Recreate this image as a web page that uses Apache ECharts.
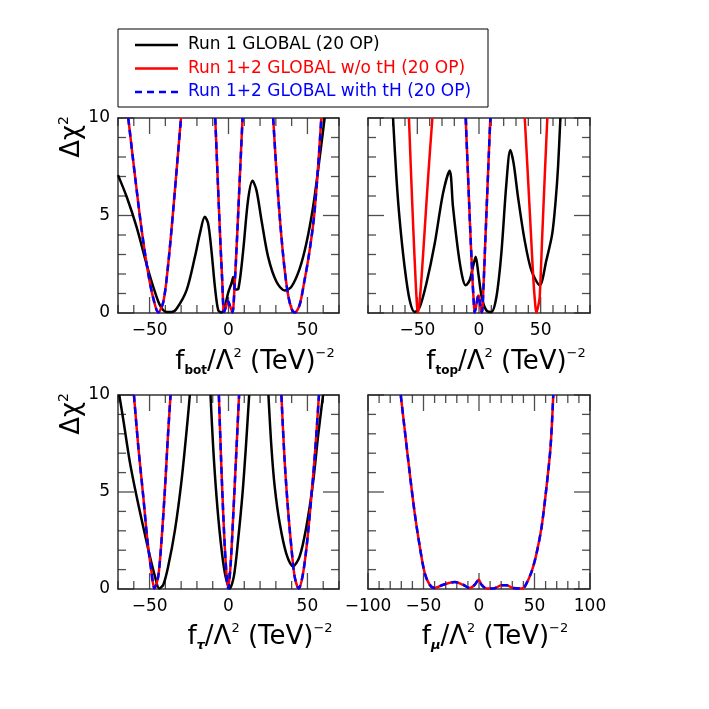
<!DOCTYPE html>
<html>
<head>
<meta charset="utf-8">
<title>Delta chi2 scans</title>
<script src="https://cdn.jsdelivr.net/npm/echarts@6/dist/echarts.min.js"></script>
<style>
    html, body { margin: 0; padding: 0; background: #fff; }
    #chart { width: 709px; height: 709px; }
</style>
</head>
<body>
<div id="chart"></div>
<script>
    // legend entries
    const seriesNames = ['Run 1 GLOBAL (20 OP)', 'Run 1+2 GLOBAL w/o tH (20 OP)', 'Run 1+2 GLOBAL with tH (20 OP)'];

    // tick labels
    const xTickLabels = [-100, -50, 0, 50, 100];
    const yTickLabels = [0, 5, 10];

    // axis ranges
    const botRange = [-70, 70];
    const topRange = [-90, 90];
    const tauRange = [-70, 70];
    const muRange = [-100, 100];

    // f_bot : [x, delta chi2]
    const botRun1 = [[-70, 7.07], [-64.5, 5.96], [-58.2, 4.4], [-51.9, 2.5], [-47.6, 1.33], [-43.4, 0.39], [-39.2, 0.05], [-36.1, 0.05],
        [-32.9, 0.22], [-26.6, 1.16], [-21.3, 2.87], [-18.1, 4.08], [-15.0, 4.93], [-12.9, 4.59], [-10.8, 3.2], [-8.6, 1.34],
        [-6.5, 0.14], [-4.5, 0.03], [-2.5, 0.3], [0, 1.1], [1.8, 1.5], [3.0, 1.85], [4.2, 1.2], [6.3, 1.25], [9.3, 3.2],
        [12.4, 5.8], [15.2, 6.78], [17.7, 6.3], [20.9, 4.76], [25.1, 2.88], [30.4, 1.6], [35.6, 1.16], [39.8, 1.34],
        [45.1, 2.28], [49.3, 3.56], [53.6, 5.45], [57.3, 7.67], [60.9, 10]];
    const botRun12a = [[-63.5, 10], [-59.2, 7.0], [-55.0, 4.25], [-50.8, 2.0], [-47.6, 0.74], [-44.5, 0.03], [-41.3, 0.56],
        [-38.2, 2.5], [-35.0, 5.3], [-30.1, 10]];
    const botRun12b = [[-8.4, 10], [-7.0, 7.2], [-5.5, 4.3], [-4.0, 1.7], [-2.8, 0.05], [-1.5, 0.35], [-0.3, 0.6], [1.0, 0.35],
        [2.5, 0.03], [3.8, 1.3], [5.5, 4.0], [7.2, 7.0], [8.9, 10]];
    const botRun12c = [[28.3, 10], [30.5, 7.1], [32.8, 4.6], [35.2, 2.5], [37.6, 1.0], [40, 0.2], [42, 0.02], [45, 0.4],
        [48, 1.6], [51, 3.0], [54, 4.8], [56.5, 7.2], [58.8, 10]];

    // f_top
    const topRun1 = [[-69.7, 10], [-67, 6.99], [-64.3, 4.76], [-60.3, 2.36], [-56.2, 0.65], [-52.2, 0.05], [-48.1, 0.3],
        [-42.7, 1.5], [-35.9, 3.56], [-29.2, 6.13], [-23.8, 7.3], [-21.1, 5.45], [-17, 3.2], [-13.5, 1.85], [-10.8, 1.42],
        [-7.6, 1.68], [-4.3, 2.53], [-2.7, 2.88], [-0.5, 2.0], [2.2, 0.82], [5.9, 0.14], [10, 0.05], [14.1, 0.82],
        [18.1, 3.05], [22.2, 6.64], [25.4, 8.36], [28.1, 7.67], [31.6, 5.96], [37, 3.73], [42.4, 2.2], [49.2, 1.42],
        [54.6, 2.7], [59.4, 4.07], [62.2, 5.8], [64.1, 7.5], [66, 10]];
    const topRun12a = [[-56.8, 10], [-55, 7], [-53.2, 4.2], [-51.5, 1.8], [-50.3, 0.4], [-49.5, 0.02], [-48.3, 0.5],
        [-46.5, 1.9], [-44, 4.3], [-41, 7.2], [-37.8, 10]];
    const topRun12b = [[-10.8, 10], [-9, 7.2], [-7.2, 4.4], [-5.5, 2], [-4.3, 0.6], [-3.5, 0.03], [-2.2, 0.4], [-0.9, 0.85],
        [-0.3, 0.9], [0.6, 0.6], [1.6, 0.15], [2.4, 0.03], [3.6, 1.3], [5, 3.5], [6.6, 6], [8, 8.2], [9.2, 10]];
    const topRun12c = [[37.1, 10], [39.5, 7.2], [42, 4.2], [44, 1.8], [45.5, 0.5], [46.5, 0.02], [48, 0.35], [49.2, 0.8],
        [51.3, 4], [53.3, 7], [55.4, 10]];

    // f_tau
    const tauRun1a = [[-69.2, 10], [-66.6, 8.7], [-62.4, 6.5], [-58.2, 4.77], [-54, 3.2], [-49.8, 1.68], [-46.6, 0.65],
        [-43.9, 0.03], [-41.3, 0.22], [-38.2, 1.17], [-33.9, 3.05], [-29.7, 5.63], [-26.1, 8.54], [-24.5, 10]];
    const tauRun1b = [[-11.4, 10], [-9.7, 7.3], [-7.6, 4.77], [-5.1, 2.54], [-2.3, 0.82], [0.8, 0.03], [3.4, 0.65],
        [6.1, 2.54], [8.9, 4.94], [11.0, 7.3], [13.1, 10]];
    const tauRun1c = [[25.3, 10], [27.2, 7.3], [29.3, 5.25], [32.5, 3.36], [36.7, 1.8], [40.9, 1.17], [45.1, 1.68],
        [49.3, 3.2], [53.5, 5.44], [56.7, 7.85], [59.9, 10]];
    const tauRun12a = [[-59.9, 10], [-57.1, 7.3], [-54, 4.77], [-51.4, 2.54], [-48.7, 0.82], [-47, 0.03], [-44.5, 0.65],
        [-42.4, 2.54], [-40.3, 5.1], [-38.4, 7.85], [-36.7, 10]];
    const tauRun12b = [[-6.1, 10], [-4.8, 6.9], [-3.3, 3.8], [-1.8, 1.4], [-0.2, 0.02], [1.3, 1.2], [3, 3.8], [4.8, 6.8],
        [6.7, 10]];
    const tauRun12c = [[33.5, 10], [35.5, 6.7], [37.8, 4], [40, 2], [42, 0.6], [44.5, 0.02], [47, 0.7], [49.5, 2.2],
        [52, 4.3], [54.8, 7], [57.3, 10]];

    // f_mu (only Run 1+2)
    const muRun12 = [[-70.5, 10], [-66.9, 8.2], [-62.4, 5.97], [-57.9, 3.9], [-53.4, 2.2], [-48.9, 0.82], [-44.4, 0.22],
        [-39.8, 0.05], [-32.3, 0.22], [-21.8, 0.36], [-14.3, 0.22], [-8.3, 0.05], [-3.8, 0.22], [-0.2, 0.48], [2.3, 0.22],
        [6.8, 0.02], [12.8, 0.02], [20.3, 0.19], [24.8, 0.19], [30.8, 0.05], [38.3, 0.02], [41.4, 0.14], [47.4, 0.9],
        [51.9, 1.85], [56.4, 3.2], [60.9, 5.3], [64.5, 7.35], [66.9, 10]];

    const FONT = 'DejaVu Sans';
    const colors = ['#000000', '#ff0000', '#0000ff'];
    const tickColor = '#222';
    // legend icons: solid bar and four dashes
    const solidIcon = 'path://M0,0H43V2.5H0Z';
    const dashIcon = 'path://M0,0H7V2.5H0Z M12,0H19V2.5H12Z M24,0H31V2.5H24Z M36,0H43V2.5H36Z';

    const panels = [
        { grid: { left: 118, top: 118, width: 221, height: 195 }, range: botRange, yLabels: true,
            black: [botRun1], red: [botRun12a, botRun12b, botRun12c], blue: [botRun12a, botRun12b, botRun12c] },
        { grid: { left: 368, top: 118, width: 222, height: 195 }, range: topRange, yLabels: false,
            black: [topRun1], red: [topRun12a, topRun12b, topRun12c], blue: [topRun12b] },
        { grid: { left: 118, top: 395, width: 221, height: 194 }, range: tauRange, yLabels: true,
            black: [tauRun1a, tauRun1b, tauRun1c], red: [tauRun12a, tauRun12b, tauRun12c], blue: [tauRun12a, tauRun12b, tauRun12c] },
        { grid: { left: 368, top: 395, width: 222, height: 194 }, range: muRange, yLabels: false,
            black: [], red: [muRun12], blue: [muRun12] }
    ];

    // frame tick marks drawn as thin rect symbols placed on the axis scales
    function tickMarks(xAxisIndex, yAxisIndex, points, size, offset) {
        return {
            type: 'scatter', xAxisIndex: xAxisIndex, yAxisIndex: yAxisIndex, data: points,
            symbol: 'rect', symbolSize: size, symbolOffset: offset, clip: false, silent: true, z: 1,
            itemStyle: { color: tickColor }, emphasis: { disabled: true }
        };
    }

    const grids = [], xAxes = [], yAxes = [], series = [];

    panels.forEach((p, i) => {
        grids.push(Object.assign({ outerBoundsMode: 'none', containLabel: false }, p.grid));
        const frame = { show: true, onZero: false, lineStyle: { color: '#333', width: 1.5 } };

        xAxes.push({
            type: 'value', gridIndex: i, position: 'bottom', min: p.range[0], max: p.range[1], interval: 10,
            splitLine: { show: false }, axisLine: frame, axisTick: { show: false },
            axisLabel: {
                show: true, margin: 9, fontFamily: FONT, fontSize: 17, color: '#000',
                formatter: v => xTickLabels.includes(v) ? String(v).replace('-', '\u2212') : ''
            }
        });
        const xMain = xAxes.length - 1;
        xAxes.push({
            type: 'value', gridIndex: i, position: 'top', min: p.range[0], max: p.range[1], interval: 10,
            splitLine: { show: false }, axisLine: frame, axisTick: { show: false }, axisLabel: { show: false }
        });

        yAxes.push({
            type: 'value', gridIndex: i, position: 'left', min: 0, max: 10, interval: 5,
            splitLine: { show: false }, axisLine: frame, axisTick: { show: false },
            axisLabel: p.yLabels ? { show: true, margin: 8, fontFamily: FONT, fontSize: 17, color: '#000',
                formatter: v => yTickLabels.includes(v) ? String(v) : '' } : { show: false }
        });
        const yMain = yAxes.length - 1;
        yAxes.push({
            type: 'value', gridIndex: i, position: 'right', min: 0, max: 10, interval: 5,
            splitLine: { show: false }, axisLine: frame, axisTick: { show: false }, axisLabel: { show: false }
        });

        // tick positions: every 10 on x, every 1 on y; labelled values get long ticks
        const xStep = [];
        for (let v = p.range[0]; v <= p.range[1]; v += 10) xStep.push(v);
        const yStep = [];
        for (let v = 0; v <= 10; v++) yStep.push(v);
        const xMinor = xStep.filter(v => !xTickLabels.includes(v));
        const xMajor = xStep.filter(v => xTickLabels.includes(v));
        const yMinor = yStep.filter(v => !yTickLabels.includes(v));
        const yMajor = yStep.filter(v => yTickLabels.includes(v));
        const lo = p.range[0], hi = p.range[1];

        series.push(tickMarks(xMain, yMain, xMinor.map(v => [v, 0]), [1.3, 8], [0, -4]));
        series.push(tickMarks(xMain, yMain, xMajor.map(v => [v, 0]), [1.3, 16], [0, -8]));
        series.push(tickMarks(xMain, yMain, xMinor.map(v => [v, 10]), [1.3, 8], [0, 4]));
        series.push(tickMarks(xMain, yMain, xMajor.map(v => [v, 10]), [1.3, 16], [0, 8]));
        series.push(tickMarks(xMain, yMain, yMinor.map(v => [lo, v]), [8, 1.3], [4, 0]));
        series.push(tickMarks(xMain, yMain, yMajor.map(v => [lo, v]), [16, 1.3], [8, 0]));
        series.push(tickMarks(xMain, yMain, yMinor.map(v => [hi, v]), [8, 1.3], [-4, 0]));
        series.push(tickMarks(xMain, yMain, yMajor.map(v => [hi, v]), [16, 1.3], [-8, 0]));

        const addLines = (list, k, extra) => list.forEach(d => {
            series.push(Object.assign({
                name: seriesNames[k], type: 'line', xAxisIndex: xMain, yAxisIndex: yMain,
                data: d, symbol: 'none', smooth: 0.3, clip: true,
                lineStyle: { color: colors[k], width: 2.5 }, itemStyle: { color: colors[k] },
                emphasis: { disabled: true }
            }, extra));
        });
        addLines(p.black, 0, { z: 2 });
        addLines(p.red, 1, { z: 3 });
        addLines(p.blue, 2, { z: 4, lineStyle: { color: colors[2], width: 2.5, type: [7, 5] } });
    });

    // x-axis titles as rich text
    const richBase = {
        m: { fontFamily: FONT, fontSize: 26, lineHeight: 30, color: '#000' },
        s: { fontFamily: FONT, fontSize: 12, fontWeight: 'bold', lineHeight: 21, verticalAlign: 'bottom', color: '#000' },
        si: { fontFamily: FONT, fontSize: 13, fontWeight: 'bold', fontStyle: 'italic', lineHeight: 21, verticalAlign: 'bottom', color: '#000' },
        p: { fontFamily: FONT, fontSize: 13, lineHeight: 13, verticalAlign: 'top', color: '#000' }
    };
    const xTitle = (x, y, sub, subKey) => ({
        type: 'text', x: x, y: y,
        style: {
            text: '{m|f}{' + subKey + '|' + sub + '}{m|/\u039b}{p|2}{m| (TeV)}{p|\u22122}',
            align: 'center', verticalAlign: 'middle', rich: richBase
        }
    });
    const yTitle = (x, y) => ({
        type: 'text', x: x, y: y, rotation: Math.PI / 2,
        style: {
            text: '{m|\u0394\u03c7}{p|2}', align: 'center', verticalAlign: 'middle',
            rich: { m: richBase.m, p: { fontFamily: FONT, fontSize: 14, lineHeight: 14, verticalAlign: 'top', color: '#000' } }
        }
    });

    const option = {
        animation: false,
        backgroundColor: '#fff',
        grid: grids,
        xAxis: xAxes,
        yAxis: yAxes,
        legend: {
            orient: 'vertical', left: 130, top: 30,
            itemWidth: 43, itemHeight: 2.5, itemGap: 3.5,
            selectedMode: false,
            textStyle: { fontFamily: FONT, fontSize: 17, lineHeight: 20, padding: [0, 0, 0, 5] },
            data: seriesNames.map((n, k) => ({
                name: n, icon: k === 2 ? dashIcon : solidIcon,
                itemStyle: { color: colors[k] }, textStyle: { color: colors[k] }
            }))
        },
        graphic: [
            { type: 'rect', shape: { x: 118, y: 29, width: 370, height: 78 }, style: { fill: 'none', stroke: '#000', lineWidth: 1 } },
            xTitle(255, 362, 'bot', 's'),
            xTitle(506, 362, 'top', 's'),
            xTitle(260, 637, '\u03c4', 'si'),
            xTitle(495, 637, '\u03bc', 'si'),
            yTitle(72, 137),
            yTitle(72, 414)
        ],
        series: series
    };

    const chart = echarts.init(document.getElementById('chart'));
    chart.setOption(option);
</script>
</body>
</html>
